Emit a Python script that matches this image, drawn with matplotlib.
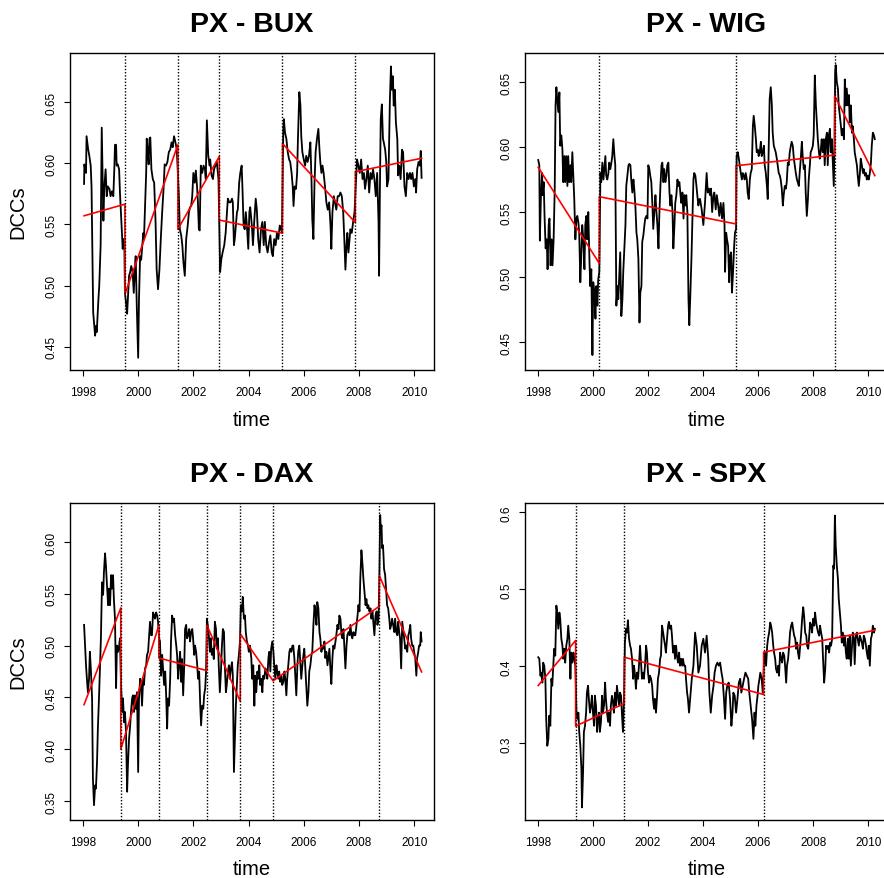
import numpy as np
import matplotlib
matplotlib.use("Agg")
import matplotlib.pyplot as plt

plt.rcParams['font.family'] = ['Liberation Sans', 'DejaVu Sans']

# ---------------- data ----------------
# PX - BUX
bux_t = [1998.04, 1998.05, 1998.11, 1998.13, 1998.19, 1998.23, 1998.28, 1998.31, 1998.37, 1998.44,
         1998.47, 1998.50, 1998.56, 1998.59, 1998.64, 1998.68, 1998.74, 1998.77, 1998.82, 1998.86,
         1998.90, 1998.96, 1999.00, 1999.05, 1999.10, 1999.14, 1999.16, 1999.20, 1999.22, 1999.26,
         1999.31, 1999.34, 1999.40, 1999.44, 1999.46, 1999.50, 1999.52, 1999.56, 1999.60, 1999.63,
         1999.67, 1999.71, 1999.75, 1999.80, 1999.84, 1999.88, 1999.91, 1999.95, 2000.00, 2000.03,
         2000.07, 2000.11, 2000.15, 2000.19, 2000.21, 2000.25, 2000.29, 2000.31, 2000.35, 2000.38,
         2000.41, 2000.44, 2000.48, 2000.53, 2000.58, 2000.63, 2000.67, 2000.72, 2000.77, 2000.82,
         2000.87, 2000.92, 2000.96, 2001.01, 2001.06, 2001.11, 2001.16, 2001.21, 2001.25, 2001.30,
         2001.35, 2001.40, 2001.47, 2001.51, 2001.56, 2001.60, 2001.64, 2001.69, 2001.74, 2001.79,
         2001.84, 2001.88, 2001.92, 2001.96, 2002.00, 2002.05, 2002.09, 2002.13, 2002.16, 2002.20,
         2002.23, 2002.27, 2002.32, 2002.37, 2002.42, 2002.45, 2002.49, 2002.54, 2002.59, 2002.61,
         2002.66, 2002.71, 2002.75, 2002.85, 2002.91, 2002.97, 2003.01, 2003.06, 2003.12, 2003.17,
         2003.21, 2003.25, 2003.30, 2003.35, 2003.40, 2003.43, 2003.47, 2003.50, 2003.54, 2003.58,
         2003.61, 2003.66, 2003.70, 2003.75, 2003.78, 2003.82, 2003.86, 2003.90, 2003.94, 2003.99,
         2004.03, 2004.06, 2004.12, 2004.16, 2004.21, 2004.26, 2004.30, 2004.35, 2004.40, 2004.45,
         2004.50, 2004.55, 2004.59, 2004.64, 2004.69, 2004.74, 2004.79, 2004.84, 2004.88, 2004.93,
         2004.98, 2005.03, 2005.08, 2005.13, 2005.18, 2005.21, 2005.26, 2005.28, 2005.32, 2005.37,
         2005.42, 2005.47, 2005.51, 2005.56, 2005.60, 2005.63, 2005.67, 2005.72, 2005.76, 2005.79,
         2005.84, 2005.88, 2005.91, 2005.95, 2006.00, 2006.05, 2006.09, 2006.14, 2006.19, 2006.24,
         2006.28, 2006.31, 2006.35, 2006.39, 2006.43, 2006.48, 2006.53, 2006.57, 2006.60, 2006.64,
         2006.68, 2006.72, 2006.77, 2006.82, 2006.87, 2006.92, 2006.97, 2007.00, 2007.04, 2007.09,
         2007.13, 2007.18, 2007.23, 2007.28, 2007.33, 2007.38, 2007.43, 2007.47, 2007.51, 2007.55,
         2007.58, 2007.62, 2007.66, 2007.69, 2007.74, 2007.79, 2007.84, 2007.91, 2007.93, 2007.98,
         2008.03, 2008.08, 2008.13, 2008.18, 2008.22, 2008.27, 2008.32, 2008.37, 2008.42, 2008.47,
         2008.51, 2008.56, 2008.61, 2008.66, 2008.71, 2008.73, 2008.76, 2008.79, 2008.83, 2008.87,
         2008.90, 2008.95, 2008.99, 2009.02, 2009.07, 2009.12, 2009.16, 2009.19, 2009.23, 2009.26,
         2009.30, 2009.34, 2009.39, 2009.42, 2009.46, 2009.51, 2009.56, 2009.60, 2009.65, 2009.70,
         2009.75, 2009.80, 2009.85, 2009.89, 2009.94, 2009.99, 2010.04, 2010.07, 2010.11, 2010.16,
         2010.21, 2010.24, 2010.27]
bux_v = [0.583, 0.599, 0.592, 0.622, 0.611, 0.606, 0.598, 0.581, 0.478, 0.459,
         0.467, 0.462, 0.489, 0.500, 0.533, 0.629, 0.553, 0.579, 0.595, 0.573,
         0.581, 0.579, 0.573, 0.577, 0.573, 0.598, 0.615, 0.615, 0.598, 0.599,
         0.595, 0.576, 0.549, 0.530, 0.538, 0.533, 0.494, 0.486, 0.477, 0.490,
         0.508, 0.511, 0.516, 0.511, 0.494, 0.513, 0.524, 0.483, 0.441, 0.489,
         0.524, 0.521, 0.533, 0.543, 0.538, 0.565, 0.592, 0.620, 0.609, 0.599,
         0.620, 0.621, 0.595, 0.587, 0.584, 0.552, 0.513, 0.497, 0.513, 0.538,
         0.560, 0.579, 0.599, 0.598, 0.601, 0.609, 0.611, 0.617, 0.613, 0.622,
         0.617, 0.611, 0.576, 0.546, 0.541, 0.533, 0.519, 0.508, 0.538, 0.548,
         0.560, 0.564, 0.565, 0.573, 0.592, 0.584, 0.594, 0.582, 0.571, 0.546,
         0.545, 0.598, 0.592, 0.598, 0.595, 0.587, 0.635, 0.606, 0.598, 0.603,
         0.590, 0.587, 0.595, 0.601, 0.587, 0.511, 0.521, 0.527, 0.533, 0.543,
         0.557, 0.571, 0.568, 0.568, 0.571, 0.568, 0.533, 0.538, 0.549, 0.560,
         0.562, 0.584, 0.592, 0.598, 0.579, 0.549, 0.546, 0.560, 0.549, 0.530,
         0.560, 0.564, 0.549, 0.533, 0.554, 0.571, 0.562, 0.538, 0.527, 0.546,
         0.552, 0.533, 0.552, 0.533, 0.527, 0.535, 0.541, 0.527, 0.524, 0.538,
         0.533, 0.543, 0.538, 0.549, 0.546, 0.543, 0.628, 0.636, 0.625, 0.620,
         0.609, 0.603, 0.601, 0.592, 0.581, 0.565, 0.581, 0.579, 0.592, 0.620,
         0.658, 0.647, 0.622, 0.609, 0.603, 0.598, 0.606, 0.601, 0.606, 0.617,
         0.587, 0.554, 0.538, 0.584, 0.609, 0.620, 0.628, 0.611, 0.601, 0.592,
         0.598, 0.592, 0.581, 0.568, 0.562, 0.568, 0.549, 0.530, 0.560, 0.573,
         0.568, 0.562, 0.573, 0.573, 0.576, 0.573, 0.560, 0.538, 0.513, 0.533,
         0.543, 0.527, 0.538, 0.546, 0.543, 0.552, 0.560, 0.595, 0.603, 0.598,
         0.592, 0.603, 0.587, 0.592, 0.579, 0.587, 0.598, 0.576, 0.592, 0.587,
         0.595, 0.587, 0.573, 0.592, 0.552, 0.508, 0.579, 0.636, 0.648, 0.620,
         0.617, 0.611, 0.601, 0.581, 0.587, 0.650, 0.679, 0.660, 0.671, 0.647,
         0.660, 0.633, 0.620, 0.590, 0.598, 0.587, 0.611, 0.609, 0.581, 0.573,
         0.592, 0.587, 0.592, 0.587, 0.592, 0.581, 0.587, 0.576, 0.595, 0.601,
         0.598, 0.610, 0.588]
bux_breaks = [1999.52, 2001.44, 2002.94, 2005.23, 2007.87]
bux_fit_start = [0.557, 0.493, 0.546, 0.5535, 0.616, 0.593]
bux_fit_end = [0.5665, 0.615, 0.6055, 0.5428, 0.5515, 0.604]

# PX - WIG
wig_t = [1998.01, 1998.05, 1998.07, 1998.11, 1998.15, 1998.17, 1998.21, 1998.24, 1998.28, 1998.32,
         1998.35, 1998.39, 1998.42, 1998.46, 1998.50, 1998.53, 1998.57, 1998.61, 1998.64, 1998.67,
         1998.70, 1998.74, 1998.78, 1998.81, 1998.85, 1998.89, 1998.92, 1998.96, 1998.99, 1999.03,
         1999.07, 1999.10, 1999.14, 1999.18, 1999.21, 1999.25, 1999.29, 1999.32, 1999.36, 1999.40,
         1999.43, 1999.47, 1999.50, 1999.54, 1999.58, 1999.61, 1999.65, 1999.69, 1999.72, 1999.76,
         1999.79, 1999.83, 1999.87, 1999.90, 1999.94, 1999.98, 2000.01, 2000.05, 2000.09, 2000.12,
         2000.16, 2000.19, 2000.23, 2000.27, 2000.30, 2000.34, 2000.38, 2000.41, 2000.45, 2000.48,
         2000.52, 2000.56, 2000.59, 2000.63, 2000.67, 2000.70, 2000.74, 2000.78, 2000.81, 2000.85,
         2000.89, 2000.92, 2000.96, 2000.99, 2001.03, 2001.07, 2001.10, 2001.14, 2001.18, 2001.21,
         2001.25, 2001.29, 2001.32, 2001.36, 2001.39, 2001.43, 2001.47, 2001.50, 2001.54, 2001.58,
         2001.61, 2001.65, 2001.69, 2001.72, 2001.76, 2001.79, 2001.83, 2001.87, 2001.90, 2001.94,
         2001.98, 2002.01, 2002.05, 2002.08, 2002.12, 2002.16, 2002.19, 2002.23, 2002.27, 2002.30,
         2002.34, 2002.38, 2002.41, 2002.45, 2002.49, 2002.52, 2002.56, 2002.59, 2002.63, 2002.67,
         2002.70, 2002.74, 2002.78, 2002.81, 2002.85, 2002.89, 2002.92, 2002.96, 2002.99, 2003.03,
         2003.07, 2003.10, 2003.14, 2003.18, 2003.21, 2003.25, 2003.29, 2003.32, 2003.36, 2003.39,
         2003.43, 2003.47, 2003.50, 2003.54, 2003.58, 2003.61, 2003.65, 2003.68, 2003.72, 2003.76,
         2003.79, 2003.83, 2003.87, 2003.89, 2003.95, 2004.01, 2004.07, 2004.13, 2004.17, 2004.21,
         2004.25, 2004.29, 2004.33, 2004.38, 2004.41, 2004.46, 2004.50, 2004.55, 2004.59, 2004.64,
         2004.69, 2004.74, 2004.78, 2004.80, 2004.84, 2004.87, 2004.91, 2004.95, 2004.98, 2005.02,
         2005.05, 2005.09, 2005.13, 2005.16, 2005.20, 2005.22, 2005.26, 2005.30, 2005.33, 2005.37,
         2005.41, 2005.44, 2005.48, 2005.51, 2005.55, 2005.59, 2005.62, 2005.66, 2005.70, 2005.73,
         2005.77, 2005.81, 2005.84, 2005.88, 2005.92, 2005.95, 2005.99, 2006.02, 2006.06, 2006.10,
         2006.13, 2006.17, 2006.21, 2006.24, 2006.28, 2006.32, 2006.35, 2006.39, 2006.42, 2006.46,
         2006.50, 2006.53, 2006.57, 2006.61, 2006.64, 2006.68, 2006.71, 2006.75, 2006.79, 2006.82,
         2006.86, 2006.90, 2006.93, 2006.97, 2007.01, 2007.04, 2007.08, 2007.11, 2007.15, 2007.19,
         2007.22, 2007.26, 2007.30, 2007.33, 2007.37, 2007.41, 2007.44, 2007.48, 2007.51, 2007.55,
         2007.59, 2007.62, 2007.66, 2007.70, 2007.73, 2007.77, 2007.81, 2007.84, 2007.88, 2007.91,
         2007.95, 2007.99, 2008.02, 2008.06, 2008.10, 2008.13, 2008.17, 2008.21, 2008.24, 2008.28,
         2008.31, 2008.35, 2008.39, 2008.42, 2008.46, 2008.50, 2008.53, 2008.57, 2008.61, 2008.64,
         2008.68, 2008.72, 2008.75, 2008.78, 2008.80, 2008.82, 2008.86, 2008.90, 2008.93, 2008.97,
         2009.01, 2009.04, 2009.08, 2009.12, 2009.15, 2009.19, 2009.22, 2009.26, 2009.30, 2009.33,
         2009.37, 2009.41, 2009.44, 2009.48, 2009.51, 2009.55, 2009.59, 2009.62, 2009.66, 2009.70,
         2009.73, 2009.77, 2009.81, 2009.84, 2009.88, 2009.92, 2009.95, 2009.99, 2010.02, 2010.06,
         2010.10, 2010.13, 2010.17, 2010.21, 2010.24]
wig_v = [0.590, 0.586, 0.528, 0.563, 0.580, 0.563, 0.573, 0.547, 0.522, 0.529,
         0.506, 0.540, 0.545, 0.509, 0.529, 0.509, 0.529, 0.568, 0.632, 0.646,
         0.637, 0.627, 0.642, 0.601, 0.609, 0.598, 0.573, 0.593, 0.573, 0.593,
         0.570, 0.593, 0.573, 0.586, 0.573, 0.596, 0.575, 0.560, 0.529, 0.545,
         0.547, 0.542, 0.534, 0.496, 0.519, 0.540, 0.529, 0.506, 0.540, 0.547,
         0.529, 0.550, 0.514, 0.493, 0.506, 0.440, 0.496, 0.488, 0.468, 0.493,
         0.478, 0.498, 0.504, 0.580, 0.573, 0.588, 0.575, 0.583, 0.593, 0.578,
         0.575, 0.580, 0.588, 0.583, 0.588, 0.593, 0.606, 0.593, 0.586, 0.478,
         0.493, 0.483, 0.504, 0.519, 0.470, 0.483, 0.504, 0.522, 0.540, 0.570,
         0.578, 0.586, 0.587, 0.586, 0.575, 0.565, 0.575, 0.568, 0.555, 0.534,
         0.529, 0.514, 0.465, 0.488, 0.493, 0.527, 0.532, 0.540, 0.545, 0.547,
         0.545, 0.586, 0.583, 0.578, 0.573, 0.555, 0.537, 0.550, 0.563, 0.552,
         0.540, 0.522, 0.547, 0.570, 0.586, 0.588, 0.573, 0.583, 0.573, 0.578,
         0.586, 0.588, 0.565, 0.555, 0.563, 0.550, 0.522, 0.540, 0.557, 0.563,
         0.575, 0.570, 0.573, 0.563, 0.557, 0.565, 0.545, 0.563, 0.555, 0.563,
         0.550, 0.483, 0.463, 0.488, 0.516, 0.540, 0.575, 0.580, 0.578, 0.570,
         0.563, 0.555, 0.560, 0.560, 0.552, 0.540, 0.557, 0.580, 0.565, 0.568,
         0.563, 0.568, 0.550, 0.563, 0.565, 0.552, 0.563, 0.555, 0.547, 0.557,
         0.545, 0.557, 0.540, 0.504, 0.534, 0.529, 0.524, 0.496, 0.516, 0.519,
         0.488, 0.504, 0.524, 0.534, 0.537, 0.593, 0.596, 0.591, 0.586, 0.580,
         0.575, 0.580, 0.578, 0.575, 0.580, 0.575, 0.565, 0.560, 0.575, 0.580,
         0.583, 0.616, 0.624, 0.616, 0.606, 0.596, 0.598, 0.593, 0.596, 0.604,
         0.593, 0.596, 0.601, 0.586, 0.580, 0.570, 0.560, 0.606, 0.637, 0.646,
         0.632, 0.611, 0.601, 0.598, 0.596, 0.591, 0.586, 0.580, 0.578, 0.575,
         0.568, 0.555, 0.563, 0.570, 0.568, 0.573, 0.588, 0.586, 0.596, 0.601,
         0.604, 0.601, 0.591, 0.586, 0.580, 0.575, 0.573, 0.570, 0.580, 0.591,
         0.604, 0.593, 0.583, 0.586, 0.565, 0.547, 0.560, 0.575, 0.586, 0.596,
         0.598, 0.601, 0.609, 0.655, 0.632, 0.621, 0.606, 0.596, 0.591, 0.598,
         0.606, 0.596, 0.606, 0.586, 0.606, 0.611, 0.586, 0.609, 0.614, 0.596,
         0.606, 0.586, 0.570, 0.606, 0.658, 0.663, 0.650, 0.645, 0.632, 0.624,
         0.616, 0.609, 0.614, 0.606, 0.652, 0.632, 0.645, 0.632, 0.640, 0.619,
         0.632, 0.611, 0.616, 0.606, 0.596, 0.591, 0.586, 0.578, 0.570, 0.580,
         0.591, 0.586, 0.580, 0.583, 0.578, 0.580, 0.575, 0.578, 0.575, 0.580,
         0.588, 0.601, 0.611, 0.609, 0.606]
wig_breaks = [2000.23, 2005.20, 2008.78]
wig_fit_start = [0.5844, 0.5618, 0.5856, 0.6395]
wig_fit_end = [0.5105, 0.5408, 0.5938, 0.578]

# PX - DAX
dax_t = [1998.04, 1998.07, 1998.11, 1998.15, 1998.18, 1998.22, 1998.25, 1998.29, 1998.33, 1998.36,
         1998.40, 1998.44, 1998.47, 1998.51, 1998.54, 1998.58, 1998.62, 1998.65, 1998.69, 1998.73,
         1998.76, 1998.80, 1998.83, 1998.87, 1998.91, 1998.94, 1998.98, 1999.02, 1999.05, 1999.09,
         1999.12, 1999.16, 1999.20, 1999.23, 1999.27, 1999.31, 1999.34, 1999.38, 1999.42, 1999.45,
         1999.49, 1999.52, 1999.56, 1999.60, 1999.63, 1999.67, 1999.71, 1999.74, 1999.78, 1999.81,
         1999.85, 1999.89, 1999.92, 1999.96, 2000.00, 2000.03, 2000.07, 2000.10, 2000.14, 2000.18,
         2000.21, 2000.25, 2000.29, 2000.32, 2000.36, 2000.40, 2000.43, 2000.47, 2000.50, 2000.54,
         2000.58, 2000.61, 2000.65, 2000.69, 2000.72, 2000.76, 2000.79, 2000.83, 2000.87, 2000.90,
         2000.94, 2000.98, 2001.01, 2001.05, 2001.08, 2001.12, 2001.16, 2001.19, 2001.23, 2001.27,
         2001.30, 2001.34, 2001.38, 2001.41, 2001.45, 2001.48, 2001.52, 2001.56, 2001.59, 2001.63,
         2001.67, 2001.70, 2001.74, 2001.77, 2001.81, 2001.85, 2001.88, 2001.92, 2001.96, 2001.99,
         2002.03, 2002.06, 2002.10, 2002.14, 2002.17, 2002.21, 2002.25, 2002.28, 2002.32, 2002.36,
         2002.39, 2002.43, 2002.46, 2002.49, 2002.52, 2002.56, 2002.60, 2002.63, 2002.67, 2002.71,
         2002.74, 2002.78, 2002.82, 2002.85, 2002.89, 2002.92, 2002.96, 2003.00, 2003.03, 2003.07,
         2003.11, 2003.14, 2003.18, 2003.21, 2003.25, 2003.29, 2003.32, 2003.36, 2003.40, 2003.43,
         2003.47, 2003.50, 2003.54, 2003.58, 2003.61, 2003.65, 2003.69, 2003.72, 2003.76, 2003.79,
         2003.83, 2003.87, 2003.90, 2003.94, 2003.98, 2004.01, 2004.05, 2004.10, 2004.13, 2004.17,
         2004.21, 2004.24, 2004.28, 2004.32, 2004.35, 2004.39, 2004.42, 2004.46, 2004.50, 2004.53,
         2004.57, 2004.61, 2004.64, 2004.68, 2004.72, 2004.75, 2004.79, 2004.82, 2004.86, 2004.90,
         2004.93, 2004.97, 2005.01, 2005.04, 2005.08, 2005.11, 2005.15, 2005.19, 2005.22, 2005.26,
         2005.30, 2005.33, 2005.37, 2005.40, 2005.44, 2005.48, 2005.51, 2005.55, 2005.59, 2005.62,
         2005.66, 2005.70, 2005.73, 2005.77, 2005.80, 2005.84, 2005.88, 2005.91, 2005.95, 2005.99,
         2006.02, 2006.06, 2006.09, 2006.13, 2006.17, 2006.20, 2006.24, 2006.28, 2006.31, 2006.35,
         2006.39, 2006.42, 2006.46, 2006.49, 2006.53, 2006.57, 2006.60, 2006.64, 2006.68, 2006.71,
         2006.75, 2006.78, 2006.82, 2006.86, 2006.89, 2006.93, 2006.97, 2007.00, 2007.04, 2007.07,
         2007.11, 2007.15, 2007.18, 2007.22, 2007.26, 2007.29, 2007.33, 2007.37, 2007.40, 2007.44,
         2007.47, 2007.51, 2007.55, 2007.58, 2007.62, 2007.66, 2007.69, 2007.73, 2007.76, 2007.80,
         2007.84, 2007.87, 2007.91, 2007.95, 2007.98, 2008.02, 2008.05, 2008.09, 2008.13, 2008.16,
         2008.20, 2008.24, 2008.27, 2008.31, 2008.34, 2008.38, 2008.42, 2008.45, 2008.49, 2008.53,
         2008.56, 2008.60, 2008.64, 2008.67, 2008.71, 2008.74, 2008.77, 2008.79, 2008.82, 2008.84,
         2008.87, 2008.89, 2008.91, 2008.95, 2008.99, 2009.02, 2009.06, 2009.10, 2009.13, 2009.17,
         2009.20, 2009.24, 2009.28, 2009.31, 2009.35, 2009.39, 2009.42, 2009.46, 2009.49, 2009.53,
         2009.57, 2009.60, 2009.64, 2009.68, 2009.71, 2009.75, 2009.79, 2009.82, 2009.86, 2009.89,
         2009.93, 2009.97, 2010.00, 2010.04, 2010.08, 2010.11, 2010.15, 2010.18, 2010.22, 2010.24,
         2010.27]
dax_v = [0.520, 0.504, 0.481, 0.465, 0.455, 0.468, 0.494, 0.475, 0.449, 0.372,
         0.346, 0.365, 0.362, 0.388, 0.420, 0.449, 0.481, 0.507, 0.561, 0.549,
         0.571, 0.589, 0.578, 0.558, 0.539, 0.555, 0.539, 0.568, 0.555, 0.568,
         0.545, 0.526, 0.459, 0.500, 0.494, 0.500, 0.507, 0.462, 0.436, 0.449,
         0.426, 0.436, 0.417, 0.359, 0.385, 0.410, 0.423, 0.436, 0.449, 0.452,
         0.436, 0.452, 0.439, 0.455, 0.378, 0.449, 0.468, 0.465, 0.442, 0.468,
         0.462, 0.478, 0.481, 0.491, 0.494, 0.510, 0.523, 0.510, 0.510, 0.532,
         0.529, 0.526, 0.532, 0.529, 0.523, 0.507, 0.504, 0.471, 0.491, 0.478,
         0.462, 0.475, 0.455, 0.420, 0.449, 0.442, 0.468, 0.504, 0.529, 0.523,
         0.526, 0.510, 0.500, 0.491, 0.468, 0.481, 0.494, 0.465, 0.487, 0.452,
         0.481, 0.516, 0.520, 0.507, 0.510, 0.516, 0.504, 0.513, 0.516, 0.507,
         0.491, 0.500, 0.494, 0.481, 0.468, 0.475, 0.442, 0.423, 0.442, 0.439,
         0.452, 0.459, 0.475, 0.526, 0.520, 0.510, 0.494, 0.507, 0.491, 0.497,
         0.487, 0.523, 0.516, 0.497, 0.507, 0.481, 0.455, 0.475, 0.497, 0.516,
         0.513, 0.481, 0.455, 0.462, 0.475, 0.481, 0.468, 0.478, 0.484, 0.471,
         0.378, 0.404, 0.442, 0.465, 0.481, 0.491, 0.504, 0.539, 0.533, 0.547,
         0.526, 0.529, 0.513, 0.504, 0.500, 0.494, 0.500, 0.488, 0.468, 0.481,
         0.442, 0.471, 0.455, 0.475, 0.468, 0.481, 0.462, 0.468, 0.455, 0.471,
         0.468, 0.478, 0.475, 0.468, 0.488, 0.494, 0.475, 0.497, 0.504, 0.494,
         0.481, 0.468, 0.481, 0.475, 0.468, 0.475, 0.465, 0.471, 0.462, 0.465,
         0.475, 0.468, 0.452, 0.468, 0.481, 0.494, 0.497, 0.494, 0.500, 0.500,
         0.488, 0.468, 0.452, 0.481, 0.494, 0.500, 0.481, 0.468, 0.481, 0.491,
         0.497, 0.478, 0.462, 0.442, 0.455, 0.475, 0.481, 0.491, 0.494, 0.520,
         0.539, 0.533, 0.520, 0.542, 0.536, 0.513, 0.507, 0.494, 0.500, 0.497,
         0.504, 0.488, 0.494, 0.481, 0.488, 0.497, 0.475, 0.463, 0.488, 0.500,
         0.497, 0.504, 0.510, 0.520, 0.516, 0.529, 0.526, 0.510, 0.507, 0.516,
         0.500, 0.478, 0.500, 0.510, 0.513, 0.510, 0.520, 0.510, 0.507, 0.513,
         0.510, 0.510, 0.520, 0.529, 0.539, 0.533, 0.565, 0.592, 0.578, 0.565,
         0.552, 0.539, 0.545, 0.536, 0.539, 0.533, 0.536, 0.526, 0.533, 0.520,
         0.510, 0.529, 0.533, 0.520, 0.526, 0.565, 0.626, 0.613, 0.616, 0.594,
         0.597, 0.587, 0.574, 0.568, 0.552, 0.539, 0.536, 0.526, 0.516, 0.520,
         0.526, 0.520, 0.513, 0.526, 0.513, 0.510, 0.523, 0.513, 0.507, 0.478,
         0.523, 0.516, 0.507, 0.497, 0.500, 0.494, 0.510, 0.513, 0.520, 0.507,
         0.500, 0.500, 0.494, 0.488, 0.471, 0.488, 0.494, 0.500, 0.500, 0.513,
         0.504]
dax_breaks = [1999.37, 2000.75, 2002.49, 2003.70, 2004.89, 2008.74]
dax_fit_start = [0.443, 0.400, 0.488, 0.5196, 0.5113, 0.466, 0.5673]
dax_fit_end = [0.5364, 0.5196, 0.4759, 0.4462, 0.466, 0.538, 0.4746]

# PX - SPX
spx_t = [1998.01, 1998.05, 1998.09, 1998.12, 1998.16, 1998.19, 1998.23, 1998.27, 1998.30, 1998.34,
         1998.38, 1998.41, 1998.45, 1998.49, 1998.52, 1998.56, 1998.59, 1998.63, 1998.67, 1998.70,
         1998.74, 1998.78, 1998.81, 1998.85, 1998.89, 1998.92, 1998.96, 1998.99, 1999.03, 1999.07,
         1999.10, 1999.14, 1999.18, 1999.21, 1999.25, 1999.29, 1999.32, 1999.36, 1999.40, 1999.43,
         1999.47, 1999.50, 1999.54, 1999.58, 1999.60, 1999.64, 1999.67, 1999.71, 1999.75, 1999.78,
         1999.82, 1999.85, 1999.89, 1999.93, 1999.96, 2000.00, 2000.04, 2000.07, 2000.11, 2000.15,
         2000.18, 2000.22, 2000.25, 2000.29, 2000.33, 2000.36, 2000.40, 2000.44, 2000.47, 2000.51,
         2000.55, 2000.58, 2000.62, 2000.65, 2000.69, 2000.73, 2000.76, 2000.80, 2000.84, 2000.87,
         2000.91, 2000.95, 2000.98, 2001.02, 2001.05, 2001.09, 2001.13, 2001.16, 2001.20, 2001.24,
         2001.27, 2001.31, 2001.35, 2001.38, 2001.42, 2001.46, 2001.49, 2001.53, 2001.56, 2001.60,
         2001.64, 2001.67, 2001.71, 2001.75, 2001.78, 2001.82, 2001.85, 2001.89, 2001.93, 2001.96,
         2002.00, 2002.04, 2002.07, 2002.11, 2002.15, 2002.18, 2002.22, 2002.25, 2002.29, 2002.33,
         2002.36, 2002.40, 2002.44, 2002.47, 2002.51, 2002.55, 2002.58, 2002.62, 2002.65, 2002.69,
         2002.73, 2002.76, 2002.80, 2002.84, 2002.87, 2002.91, 2002.95, 2002.98, 2003.02, 2003.05,
         2003.09, 2003.13, 2003.16, 2003.20, 2003.24, 2003.27, 2003.31, 2003.35, 2003.38, 2003.42,
         2003.45, 2003.49, 2003.53, 2003.59, 2003.65, 2003.71, 2003.77, 2003.83, 2003.89, 2003.95,
         2004.01, 2004.07, 2004.13, 2004.19, 2004.23, 2004.28, 2004.33, 2004.38, 2004.42, 2004.47,
         2004.52, 2004.57, 2004.62, 2004.67, 2004.71, 2004.76, 2004.80, 2004.84, 2004.88, 2004.93,
         2004.98, 2005.03, 2005.07, 2005.10, 2005.15, 2005.20, 2005.25, 2005.30, 2005.35, 2005.39,
         2005.44, 2005.49, 2005.54, 2005.59, 2005.64, 2005.68, 2005.73, 2005.78, 2005.83, 2005.87,
         2005.90, 2005.94, 2005.98, 2006.01, 2006.05, 2006.08, 2006.13, 2006.17, 2006.22, 2006.25,
         2006.29, 2006.33, 2006.36, 2006.40, 2006.44, 2006.47, 2006.51, 2006.55, 2006.58, 2006.62,
         2006.65, 2006.69, 2006.73, 2006.76, 2006.80, 2006.84, 2006.87, 2006.91, 2006.95, 2006.98,
         2007.02, 2007.05, 2007.09, 2007.13, 2007.16, 2007.20, 2007.24, 2007.27, 2007.31, 2007.35,
         2007.38, 2007.42, 2007.45, 2007.49, 2007.53, 2007.56, 2007.60, 2007.64, 2007.67, 2007.71,
         2007.75, 2007.78, 2007.82, 2007.85, 2007.89, 2007.93, 2007.96, 2008.00, 2008.04, 2008.07,
         2008.11, 2008.15, 2008.18, 2008.22, 2008.25, 2008.29, 2008.33, 2008.36, 2008.40, 2008.44,
         2008.47, 2008.51, 2008.55, 2008.58, 2008.62, 2008.65, 2008.69, 2008.73, 2008.76, 2008.79,
         2008.82, 2008.86, 2008.90, 2008.93, 2008.97, 2009.01, 2009.04, 2009.08, 2009.12, 2009.15,
         2009.19, 2009.22, 2009.26, 2009.30, 2009.33, 2009.37, 2009.41, 2009.44, 2009.48, 2009.51,
         2009.55, 2009.59, 2009.62, 2009.66, 2009.70, 2009.73, 2009.77, 2009.81, 2009.84, 2009.88,
         2009.92, 2009.95, 2009.99, 2010.02, 2010.06, 2010.10, 2010.13, 2010.17, 2010.21, 2010.24]
spx_v = [0.412, 0.410, 0.388, 0.392, 0.379, 0.405, 0.401, 0.384, 0.332, 0.297,
         0.306, 0.336, 0.323, 0.384, 0.375, 0.401, 0.423, 0.414, 0.479, 0.470,
         0.449, 0.470, 0.462, 0.436, 0.427, 0.410, 0.423, 0.405, 0.427, 0.436,
         0.453, 0.436, 0.384, 0.418, 0.405, 0.418, 0.410, 0.401, 0.340, 0.332,
         0.340, 0.315, 0.297, 0.267, 0.217, 0.263, 0.315, 0.323, 0.340, 0.366,
         0.375, 0.358, 0.340, 0.349, 0.362, 0.340, 0.323, 0.362, 0.349, 0.315,
         0.332, 0.340, 0.315, 0.328, 0.362, 0.340, 0.349, 0.379, 0.358, 0.340,
         0.328, 0.340, 0.323, 0.349, 0.362, 0.353, 0.340, 0.366, 0.349, 0.375,
         0.362, 0.349, 0.366, 0.362, 0.340, 0.315, 0.362, 0.431, 0.449, 0.444,
         0.460, 0.436, 0.427, 0.423, 0.410, 0.384, 0.401, 0.388, 0.371, 0.392,
         0.384, 0.401, 0.427, 0.401, 0.384, 0.392, 0.384, 0.401, 0.427, 0.418,
         0.392, 0.379, 0.388, 0.384, 0.375, 0.358, 0.345, 0.358, 0.340, 0.362,
         0.384, 0.392, 0.410, 0.414, 0.453, 0.444, 0.436, 0.427, 0.418, 0.436,
         0.453, 0.458, 0.449, 0.453, 0.440, 0.418, 0.427, 0.410, 0.427, 0.414,
         0.405, 0.418, 0.401, 0.410, 0.401, 0.410, 0.401, 0.401, 0.384, 0.366,
         0.358, 0.340, 0.358, 0.384, 0.401, 0.444, 0.427, 0.392, 0.401, 0.427,
         0.436, 0.418, 0.440, 0.410, 0.366, 0.340, 0.362, 0.375, 0.392, 0.401,
         0.405, 0.401, 0.405, 0.392, 0.384, 0.358, 0.332, 0.366, 0.375, 0.379,
         0.358, 0.323, 0.340, 0.366, 0.362, 0.340, 0.358, 0.379, 0.384, 0.366,
         0.375, 0.384, 0.392, 0.388, 0.384, 0.366, 0.349, 0.332, 0.306, 0.340,
         0.323, 0.349, 0.362, 0.375, 0.384, 0.392, 0.384, 0.366, 0.410, 0.418,
         0.401, 0.427, 0.436, 0.444, 0.457, 0.453, 0.444, 0.427, 0.418, 0.410,
         0.397, 0.392, 0.401, 0.388, 0.418, 0.410, 0.405, 0.418, 0.414, 0.401,
         0.379, 0.401, 0.410, 0.427, 0.444, 0.453, 0.457, 0.449, 0.440, 0.436,
         0.423, 0.431, 0.418, 0.410, 0.427, 0.440, 0.462, 0.477, 0.466, 0.444,
         0.440, 0.427, 0.423, 0.436, 0.457, 0.453, 0.444, 0.462, 0.453, 0.470,
         0.457, 0.449, 0.444, 0.440, 0.453, 0.444, 0.436, 0.410, 0.379, 0.397,
         0.427, 0.423, 0.427, 0.418, 0.431, 0.427, 0.436, 0.531, 0.527, 0.596,
         0.557, 0.531, 0.514, 0.488, 0.470, 0.453, 0.431, 0.444, 0.427, 0.440,
         0.418, 0.410, 0.436, 0.410, 0.440, 0.401, 0.427, 0.444, 0.436, 0.403,
         0.440, 0.444, 0.436, 0.427, 0.440, 0.436, 0.431, 0.423, 0.440, 0.436,
         0.427, 0.418, 0.410, 0.427, 0.401, 0.436, 0.440, 0.453, 0.444, 0.449]
spx_breaks = [1999.37, 2001.14, 2006.20]
spx_fit_start = [0.3753, 0.3225, 0.412, 0.4186]
spx_fit_end = [0.4338, 0.352, 0.3636, 0.447]

years = [1998, 2000, 2002, 2004, 2006, 2008, 2010]

# ---------------- figure ----------------
W, H = 884, 879
fig = plt.figure(figsize=(W / 100, H / 100), dpi=100)


def panel(box, title, t, v, breaks, fit_start, fit_end, ylim, yticks, yfmt, ylabel):
    l, top, r, b = box
    ax = fig.add_axes([l / W, 1 - b / H, (r - l) / W, (b - top) / H])
    ax.plot(t, v, color='black', lw=1.3, zorder=2)

    # piecewise linear trend, one segment per regime
    edges = [t[0]] + breaks + [t[-1]]
    fx, fy = [], []
    for i in range(len(fit_start)):
        fx += [edges[i], edges[i + 1]]
        fy += [fit_start[i], fit_end[i]]
    ax.plot(fx, fy, color='red', lw=1.2, zorder=3)

    for bp in breaks:
        ax.axvline(bp, color='black', lw=1.0, linestyle=(0, (1.0, 1.3)), zorder=4)

    ax.set_xlim(1997.53, 2010.72)
    ax.set_ylim(*ylim)
    ax.set_xticks(years)
    ax.set_xticklabels([str(y) for y in years])
    ax.set_yticks(yticks)
    ax.set_yticklabels([yfmt % y for y in yticks], rotation=90, va='center')
    ax.tick_params(direction='out', length=4.3, width=0.8, labelsize=8.5, colors='black')
    ax.tick_params(axis='x', pad=7)
    ax.tick_params(axis='y', pad=5)
    for s in ax.spines.values():
        s.set_linewidth(1.0)

    ax.text(0.5, 1 + 29 / (b - top), title, transform=ax.transAxes, ha='center',
            va='center', fontsize=20.5, fontweight='bold')
    ax.set_xlabel('time', fontsize=14.5, va='center')
    ax.xaxis.set_label_coords(0.5, -49 / (b - top))
    if ylabel:
        ax.set_ylabel('DCCs', fontsize=14.5, va='center')
        ax.yaxis.set_label_coords(-(l - 18) / (r - l), 0.5)
    return ax


panel((70, 54, 434, 371), 'PX - BUX', bux_t, bux_v, bux_breaks, bux_fit_start, bux_fit_end,
      (0.431, 0.690), [0.45, 0.50, 0.55, 0.60, 0.65], '%.2f', True)
panel((525, 54, 888, 371), 'PX - WIG', wig_t, wig_v, wig_breaks, wig_fit_start, wig_fit_end,
      (0.4285, 0.6723), [0.45, 0.50, 0.55, 0.60, 0.65], '%.2f', False)
panel((70, 504, 434, 821), 'PX - DAX', dax_t, dax_v, dax_breaks, dax_fit_start, dax_fit_end,
      (0.3317, 0.6376), [0.35, 0.40, 0.45, 0.50, 0.55, 0.60], '%.2f', True)
panel((525, 504, 888, 821), 'PX - SPX', spx_t, spx_v, spx_breaks, spx_fit_start, spx_fit_end,
      (0.2006, 0.6123), [0.3, 0.4, 0.5, 0.6], '%.1f', False)

fig.savefig('out.png', dpi=100)
